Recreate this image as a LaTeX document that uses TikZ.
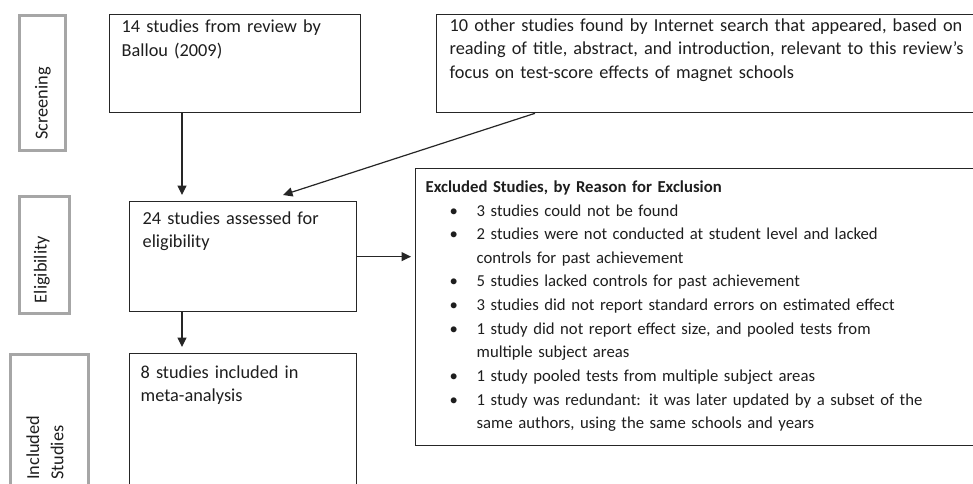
\documentclass[tikz,border=0pt]{standalone}
\usepackage{fontspec}
\setmainfont{Carlito}
\usetikzlibrary{arrows.meta}
\definecolor{txt}{HTML}{1E1E1E}
\definecolor{ln}{HTML}{262626}
\definecolor{side}{HTML}{A6A6A6}
\newcommand{\xitem}{\noindent\llap{\makebox[27pt][l]{\textbullet}}}
\begin{document}
\begin{tikzpicture}[x=1pt,y=-1pt,
  every node/.style={font=\fontsize{18.3}{23.3}\selectfont, text=txt},
  box/.style={draw=ln, line width=1.3pt, rectangle, anchor=north west, inner ysep=0pt, align=left},
  sidebox/.style={draw=side, line width=3pt, rectangle, anchor=north west, inner sep=0pt},
  sidelabel/.style={rotate=90, anchor=base west, inner sep=0pt},
  arr/.style={draw=ln, line width=1.2pt, shorten >=6pt, -{Triangle[length=9.5pt,width=9pt]}}
]
\fill[white] (0,0) rectangle (973,483);
\useasboundingbox (0,0) rectangle (973,483);
\clip (0,0) rectangle (973,483);

% side stage boxes
\node[sidebox, minimum width=46pt, minimum height=135pt] (sS) at (18,14) {};
\node[sidelabel] (lS) at (47.7,140) {Screening};
\node[sidebox, minimum width=50pt, minimum height=117pt] (sE) at (18,195) {};
\node[sidelabel] (lE) at (46.7,303.3) {Eligibility};
\node[sidebox, minimum width=78pt, minimum height=160pt] (sI) at (9,353) {};
\node[sidelabel, text width=80pt, font=\fontsize{18.3}{24.4}\selectfont] (lI) at (39,480) {Included\\Studies};

% main boxes
\node[box, text width=227pt, inner xsep=12pt, text height=18.3pt, text depth=79.7pt] (b14) at (109,14)
  {14 studies from review by\\Ballou (2009)};
\node[box, text width=538pt, inner xsep=13pt, text height=17pt, text depth=81pt] (b10) at (436,14)
  {10 other studies found by Internet search that appeared, based on\\reading of title, abstract, and introduction, relevant to this review’s\\focus on test-score effects of magnet schools};
\node[box, text width=201pt, inner xsep=13pt, text height=23pt, text depth=87pt] (b24) at (129,201)
  {24 studies assessed for\\eligibility};
\node[box, text width=205pt, inner xsep=11pt, text height=24.7pt, text depth=122.3pt] (b8) at (129,353)
  {8 studies included in\\meta-analysis};
\node[box, font=\fontsize{16.7}{23.66}\selectfont, text width=565pt, inner xsep=10pt, text height=23.7pt, text depth=253.3pt] (ex) at (415,168)
  {{\bfseries Excluded Studies, by Reason for Exclusion}\par
   \leftskip=51pt
   \xitem 3 studies could not be found\par
   \xitem 2 studies were not conducted at student level and lacked\newline controls for past achievement\par
   \xitem 5 studies lacked controls for past achievement\par
   \xitem 3 studies did not report standard errors on estimated effect\par
   \xitem 1 study did not report effect size, and pooled tests from\newline multiple subject areas\par
   \xitem 1 study pooled tests from multiple subject areas\par
   \xitem 1 study was redundant: it was later updated by a subset of the\newline same authors, using the same schools and years\par};

% connectors
\coordinate (xa) at (182,0);
\draw[arr] (xa |- b14.south) -- (xa |- b24.north);
\draw[arr] (xa |- b24.south) -- (xa |- b8.north);
\draw[arr, shorten >=4pt] (b24.east) -- (b24.east -| ex.west);
\draw[arr, shorten >=0pt] ([xshift=99pt]b10.south west) -- ([shift={(154,-6)}]b24.north west);
\end{tikzpicture}
\end{document}
